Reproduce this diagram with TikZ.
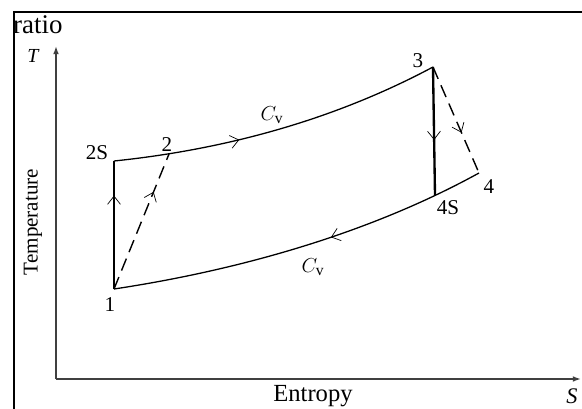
\documentclass[tikz,border=0pt]{standalone}
\usepackage{fontspec}
\setmainfont{Liberation Serif}
\usetikzlibrary{positioning, arrows.meta, decorations.markings}

\tikzset{
  lbl/.style={font=\fontsize{18}{20}\selectfont, inner sep=0pt},
  axis/.style={line width=1.5pt, draw=black!75, -{Latex[length=7pt, width=5pt]}},
  proc/.style={line width=1.1pt},
  dashproc/.style={line width=1.2pt, dash pattern=on 11pt off 6pt},
  midarr/.style={postaction={decorate}, decoration={markings,
      mark=at position #1 with {\pgfsetdash{}{0pt}\arrow{Straight Barb[length=7pt, width=11pt, line width=0.6pt]}}}},
  midarrrev/.style={postaction={decorate}, decoration={markings,
      mark=at position #1 with {\pgfsetdash{}{0pt}\arrowreversed{Straight Barb[length=7pt, width=11pt, line width=0.6pt]}}}},
}

\begin{document}
\begin{tikzpicture}[x=0.03cm, y=-0.03cm]
  \useasboundingbox (0,0) rectangle (582,408);

  % Rahmen
  \draw[line width=1.2pt] (14,420) -- (14,12) -- (600,12);
  \node[font=\fontsize{23}{26}\selectfont, anchor=west, inner sep=0pt] (ratio) at (13,25) {ratio};

  % Achsen
  \coordinate (origin) at (56,379);
  \coordinate (tend) at (56,46);
  \coordinate (send) at (581,379);
  \draw[axis] (origin) -- (tend);
  \draw[axis] (origin) -- (send);
  \node[lbl, font=\fontsize{17}{20}\selectfont\itshape] (tlbl) at (33,56) {T};
  \node[lbl, font=\fontsize{19}{20}\selectfont\itshape] (slbl) at (572,396) {S};
  \node[lbl, rotate=90] (temp) at (33,222) {Temperature};
  \node[font=\fontsize{21}{24}\selectfont, anchor=base, inner sep=0pt] (ent) at (313,401) {Entropy};

  % Zustandspunkte
  \coordinate (p1) at (114,289);
  \coordinate (p2s) at (114,161);
  \coordinate (p2) at (169,154);
  \coordinate (p3) at (433,67);
  \coordinate (p4s) at (435,195);
  \coordinate (p4) at (479,173);

  % Isochoren
  \draw[proc, midarr=0.38] (p2s) .. controls (220,150) and (330,122) .. (p3);
  \draw[proc, midarrrev=0.58] (p1) .. controls (240,270) and (370,233) .. (p4);

  % Verdichtung und Expansion
  \draw[proc, line width=1.7pt, midarr=0.73] (p1) -- (p2s);
  \draw[dashproc, midarr=0.72] (p1) -- (p2);
  \draw[proc, line width=2pt, midarr=0.57] (p3) -- (p4s);
  \draw[dashproc, midarr=0.62] (p3) -- (p4);

  % Beschriftung
  \node[lbl] (l1) at (110,305) {1};
  \node[lbl] (l2s) at (97,153) {2S};
  \node[lbl] (l2) at (167,145) {2};
  \node[lbl] (l3) at (418,61) {3};
  \node[lbl] (l4s) at (448,208) {4S};
  \node[lbl] (l4) at (489,187) {4};
  \node[font=\fontsize{19}{20}\selectfont] (cvup) at (272,115) {$C_{\mathrm{v}}$};
  \node[font=\fontsize{19}{20}\selectfont] (cvlo) at (313,267) {$C_{\mathrm{v}}$};
\end{tikzpicture}
\end{document}
